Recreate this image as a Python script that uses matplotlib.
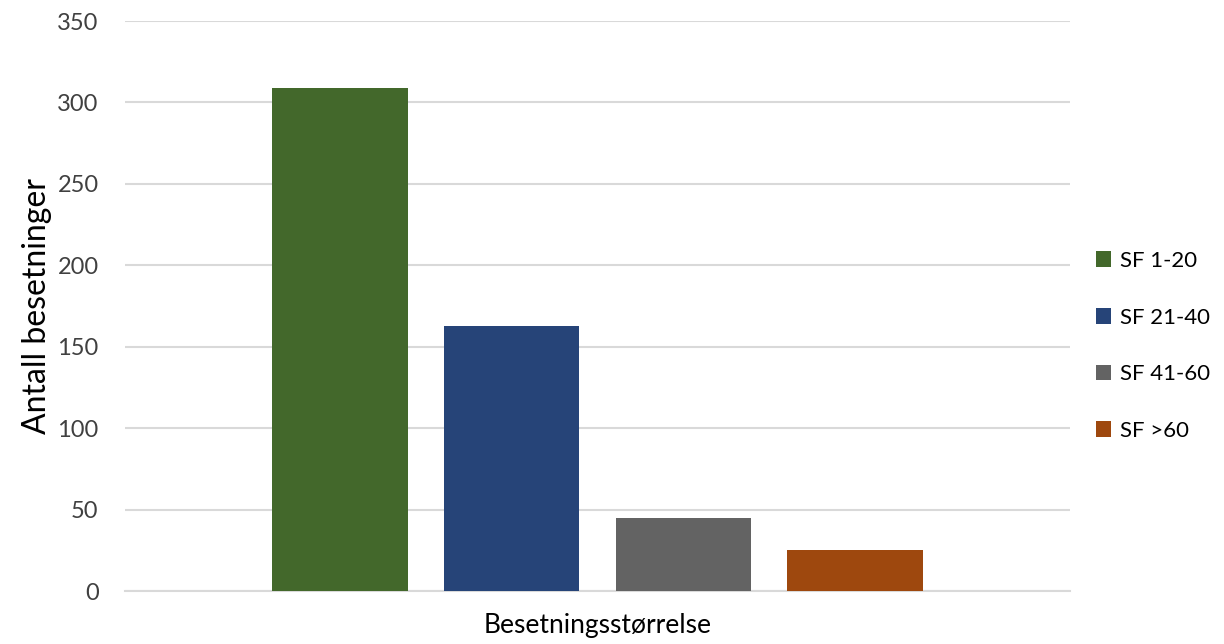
import matplotlib.pyplot as plt

plt.rcParams['font.family'] = ['Lato', 'DejaVu Sans']

series = ["SF 1-20", "SF 21-40", "SF 41-60", "SF >60"]
values = [309, 163, 45, 25]
colors = ["#43682B", "#264478", "#636363", "#9E480E"]

fig = plt.figure(figsize=(12.24, 6.44), dpi=100)
ax = fig.add_axes([125 / 1224, 1 - 591 / 644, 945 / 1224, 570 / 644])

for i, (name, v, c) in enumerate(zip(series, values, colors)):
    ax.bar(i, v, width=0.79, color=c, label=name, zorder=3)

ax.set_xlim(-1.25, 4.25)
ax.set_ylim(0, 350)
ax.set_yticks(range(0, 351, 50))
ax.set_xticks([])
ax.yaxis.grid(True, color="#D9D9D9", linewidth=1.5, zorder=0)
for s in ["top", "right", "left"]:
    ax.spines[s].set_visible(False)
ax.spines["bottom"].set_color("#D9D9D9")
ax.spines["bottom"].set_linewidth(1.5)
ax.tick_params(axis="y", length=0, labelsize=17, labelcolor="#404040", pad=19)

ax.set_ylabel("Antall besetninger", fontsize=23, color="#000000", labelpad=4)
ax.set_xlabel("Besetningsstørrelse", fontsize=19, color="#000000", labelpad=16)

leg = ax.legend(loc="center left", bbox_to_anchor=(1.006, 0.43), frameon=False,
                fontsize=16, handlelength=0.7, handleheight=0.7,
                handletextpad=0.4, labelspacing=1.65)

fig.savefig("out.png", dpi=100)
